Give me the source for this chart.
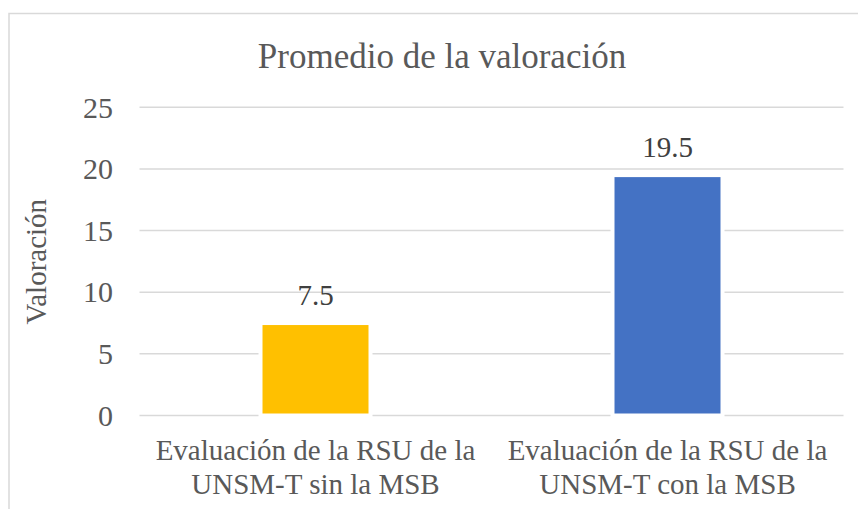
<!DOCTYPE html>
<html>
<head>
<meta charset="utf-8">
<script src="https://cdn.jsdelivr.net/npm/d3@7"></script>
<style>
  html, body { margin: 0; padding: 0; background: #fff; }
</style>
</head>
<body>
<div id="chart"></div>
<script>
const categories = [
  ['Evaluación de la RSU de la', 'UNSM-T sin la MSB'],
  ['Evaluación de la RSU de la', 'UNSM-T con la MSB'],
]
const values = [7.5, 19.5]
const barColors = ['#FFC000', '#4472C4']
const yTicks = [0, 5, 10, 15, 20, 25]
const title = 'Promedio de la valoración'
const yTitle = 'Valoración'

const width = 858
const height = 509
const plot = { left: 139.5, right: 843.5, top: 107.3, bottom: 415.5 }
const fontFamily = '"Liberation Serif", Tinos, "Times New Roman", serif'

const svg = d3
  .select('#chart')
  .append('svg')
  .attr('width', width)
  .attr('height', height)
  .attr('font-family', fontFamily)

// chart frame (runs off the right and bottom edges)
svg
  .append('rect')
  .attr('x', 9)
  .attr('y', 13.5)
  .attr('width', 900)
  .attr('height', 600)
  .attr('fill', '#fff')
  .attr('stroke', '#d9d9d9')
  .attr('stroke-width', 1.5)

const x = d3
  .scaleBand()
  .domain(d3.range(values.length))
  .range([plot.left, plot.right])
  .paddingInner(0.6875)
  .paddingOuter(0.34375)

const y = d3
  .scaleLinear()
  .domain([0, 25])
  .range([plot.bottom, plot.top])

// gridlines
svg
  .append('g')
  .selectAll('line')
  .data(yTicks)
  .join('line')
  .attr('x1', plot.left)
  .attr('x2', plot.right)
  .attr('y1', d => y(d))
  .attr('y2', d => y(d))
  .attr('stroke', '#d9d9d9')
  .attr('stroke-width', 1.5)

// y tick labels
svg
  .append('g')
  .selectAll('text')
  .data(yTicks)
  .join('text')
  .attr('x', 113)
  .attr('y', d => y(d))
  .attr('dy', '0.34em')
  .attr('text-anchor', 'end')
  .attr('font-size', '30px')
  .attr('fill', '#595959')
  .text(d => d)

// bars, white outline cuts the gridlines like the original
svg
  .append('g')
  .selectAll('rect')
  .data(values)
  .join('rect')
  .attr('x', (d, i) => x(i))
  .attr('width', x.bandwidth())
  .attr('y', d => y(d))
  .attr('height', d => y(0) - y(d))
  .attr('fill', (d, i) => barColors[i])
  .attr('stroke', '#fff')
  .attr('stroke-width', 4)

// data labels
svg
  .append('g')
  .selectAll('text')
  .data(values)
  .join('text')
  .attr('x', (d, i) => x(i) + x.bandwidth() / 2)
  .attr('y', d => y(d) - 18)
  .attr('text-anchor', 'middle')
  .attr('font-size', '29px')
  .attr('fill', '#404040')
  .text(d => d.toFixed(1))

// category labels
const catG = svg
  .append('g')
  .selectAll('text')
  .data(categories)
  .join('text')
  .attr('text-anchor', 'middle')
  .attr('font-size', '29px')
  .attr('fill', '#595959')

catG
  .selectAll('tspan')
  .data((d, i) => d.map(line => ({ line, i })))
  .join('tspan')
  .attr('x', d => x(d.i) + x.bandwidth() / 2)
  .attr('y', (d, j) => 460 + j * 34)
  .text(d => d.line)

// title
svg
  .append('text')
  .attr('x', 442)
  .attr('y', 68)
  .attr('text-anchor', 'middle')
  .attr('font-size', '35px')
  .attr('fill', '#595959')
  .text(title)

// y axis title
svg
  .append('text')
  .attr('transform', 'translate(46,261.7) rotate(-90)')
  .attr('text-anchor', 'middle')
  .attr('font-size', '29px')
  .attr('fill', '#595959')
  .text(yTitle)
</script>
</body>
</html>
